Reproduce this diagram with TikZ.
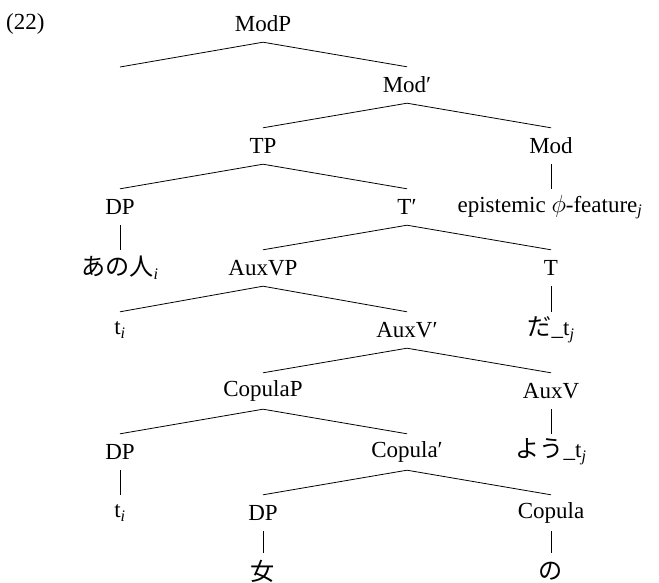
\documentclass[tikz,border=0pt]{standalone}
\usepackage{fontspec}
\setmainfont{Liberation Serif}
\newfontfamily\jpfont[Scale=1.05]{Noto Sans CJK JP}
\newcommand{\subit}[1]{\textsubscript{\itshape #1}}
\begin{document}
\begin{tikzpicture}[x=1pt,y=-1pt,
  every node/.style={font=\fontsize{23}{28}\selectfont},
  lbl/.style={inner sep=0pt, minimum height=36pt},
  edge/.style={line width=0.8pt}]
\useasboundingbox (0,0) rectangle (659,583);
\node[anchor=west, inner sep=0pt, minimum height=36pt] (num) at (6,24) {(22)};
\node[lbl] (modp) at (263,24) {ModP};
\coordinate (empty) at (120,67);
\node[lbl] (modbar) at (407,85) {Mod′};
\node[lbl] (tp) at (263,146) {TP};
\node[lbl] (mod) at (551,146) {Mod};
\node[lbl] (dp1) at (120,207) {DP};
\node[lbl] (tbar) at (407,207) {T′};
\node[lbl] (epi) at (550,207) {epistemic $\phi$-feature\subit{j}};
\node[lbl] (ano) at (120,268) {{\jpfont あの人}\subit{i}};
\node[lbl] (auxvp) at (263,268) {AuxVP};
\node[lbl] (t) at (551,268) {T};
\node[lbl] (ti1) at (120,330) {t\subit{i}};
\node[lbl] (auxvbar) at (407,330) {AuxV′};
\node[lbl] (da) at (551,330) {{\jpfont だ}\_t\subit{j}};
\node[lbl] (copp) at (263,391) {CopulaP};
\node[lbl] (auxv) at (551,391) {AuxV};
\node[lbl] (dp2) at (120,452) {DP};
\node[lbl] (copbar) at (407,452) {Copula′};
\node[lbl] (you) at (551,452) {{\jpfont よう}\_t\subit{j}};
\node[lbl] (ti2) at (120,513) {t\subit{i}};
\node[lbl] (dp3) at (263,513) {DP};
\node[lbl] (cop) at (551,513) {Copula};
\node[lbl] (onna) at (263,571) {{\jpfont 女}};
\node[lbl] (no) at (551,571) {{\jpfont の}};
\draw[edge] (modp.south) -- (empty);
\draw[edge] (modp.south) -- (modbar.north);
\draw[edge] (modbar.south) -- (tp.north);
\draw[edge] (modbar.south) -- (mod.north);
\draw[edge] (mod.south) -- (mod.south |- epi.north);
\draw[edge] (tp.south) -- (dp1.north);
\draw[edge] (tp.south) -- (tbar.north);
\draw[edge] (dp1.south) -- (ano.north);
\draw[edge] (tbar.south) -- (auxvp.north);
\draw[edge] (tbar.south) -- (t.north);
\draw[edge] (t.south) -- (da.north);
\draw[edge] (auxvp.south) -- (ti1.north);
\draw[edge] (auxvp.south) -- (auxvbar.north);
\draw[edge] (auxvbar.south) -- (copp.north);
\draw[edge] (auxvbar.south) -- (auxv.north);
\draw[edge] (auxv.south) -- (you.north);
\draw[edge] (copp.south) -- (dp2.north);
\draw[edge] (copp.south) -- (copbar.north);
\draw[edge] (dp2.south) -- (ti2.north);
\draw[edge] (copbar.south) -- (dp3.north);
\draw[edge] (copbar.south) -- (cop.north);
\draw[edge] (dp3.south) -- (onna.north);
\draw[edge] (cop.south) -- (no.north);
\end{tikzpicture}
\end{document}
